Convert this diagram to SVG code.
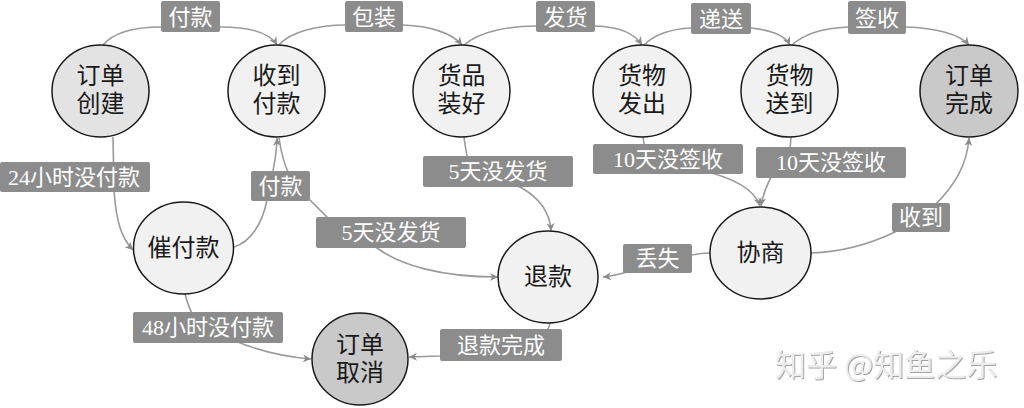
<svg xmlns="http://www.w3.org/2000/svg" width="1024" height="408" viewBox="0 0 1024 408">
<style>
.node ellipse{stroke:#1a1a1a;stroke-width:1.5;fill:#f1f1f1}
.node.start ellipse{fill:#e3e3e3}
.node.end ellipse{fill:#c9c9c9}
.node text{font-family:"Liberation Serif","Noto Sans CJK SC",serif;font-size:24px;fill:#1a1a1a;text-anchor:middle;dominant-baseline:central}
.edges path{fill:none;stroke:#9a9a9a;stroke-width:1.6}
.lbl rect{fill:#8c8c8c}
.lbl text{font-family:"Liberation Serif","Noto Sans CJK SC",serif;font-size:22px;fill:#ffffff;text-anchor:middle;dominant-baseline:central}
.wm{font-family:"Noto Sans CJK SC",sans-serif;font-size:31px;fill:#ececec}
</style>
<defs>
<marker id="arr" viewBox="0 0 10 10" refX="10" refY="5" markerWidth="9" markerHeight="8" markerUnits="userSpaceOnUse" orient="auto">
<path d="M0,0 L10,5 L0,10 L3,5 z" fill="#8a8a8a"/>
</marker>
<filter id="sh" x="-5%" y="-20%" width="110%" height="140%">
<feDropShadow dx="1" dy="1" stdDeviation="0.4" flood-color="#9a9a9a" flood-opacity="0.9"/>
</filter>
</defs>
<rect width="1024" height="408" fill="#ffffff"/>

<g id="connectors" class="edges">
<path d="M103,45 C115,31 140,27 161,27 L220,27 C250,27 270,33 277,45" marker-end="url(#arr)"/>
<path d="M279,45 C291,31 320,25 345,25 L403,25 C430,26 452,33 462,45" marker-end="url(#arr)"/>
<path d="M464,45 C480,31 510,26 536,26 L595,26 C620,27 634,33 642,45" marker-end="url(#arr)"/>
<path d="M644,45 C655,34 670,29 691,28 L751,28 C770,30 785,35 790,45" marker-end="url(#arr)"/>
<path d="M792,45 C805,33 825,28 848,27 L906,27 C935,28 960,34 969,45" marker-end="url(#arr)"/>
<path d="M113,137 L114,190 C116,220 121,238 133,250" marker-end="url(#arr)"/>
<path d="M234,247 C250,242 262,225 267,200 L273,171 C275,160 277,150 277,138" marker-end="url(#arr)"/>
<path d="M279,138 C281,152 284,163 288,172 L310,200 L330,220 L377,248 C400,265 440,277 498,277" marker-end="url(#arr)"/>
<path d="M464,137 C465,145 466,152 468,160 L500,180 L520,187 C540,198 550,212 551,231" marker-end="url(#arr)"/>
<path d="M550,323 C549,332 540,342 500,350 L440,356 L409,357" marker-end="url(#arr)"/>
<path d="M185,294 C187,302 190,310 195,320 L235,341 C262,352 285,357 311,359" marker-end="url(#arr)"/>
<path d="M643,137 L645,150 L700,170 C735,178 755,190 760,206" marker-end="url(#arr)"/>
<path d="M791,137 L790,150 L775,170 C768,182 763,192 761,206" marker-end="url(#arr)"/>
<path d="M811,253 C840,252 870,244 895,232 L935,205 C955,185 967,165 969,138" marker-end="url(#arr)"/>
<path d="M710,253 C690,253 660,262 640,268 C625,273 615,276 603,277" marker-end="url(#arr)"/>
</g>

<g id="edge-labels" class="lbl">
<rect x="161" y="1" width="59" height="31" rx="2"/><text x="190.5" y="17">付款</text>
<rect x="345" y="1" width="58" height="31" rx="2"/><text x="374" y="17">包装</text>
<rect x="536" y="1" width="59" height="31" rx="2"/><text x="565.5" y="17">发货</text>
<rect x="691" y="3" width="60" height="31" rx="2"/><text x="721" y="19">递送</text>
<rect x="848" y="1" width="58" height="33" rx="2"/><text x="877" y="18">签收</text>
<rect x="0" y="162" width="150" height="30" rx="2"/><text x="74" y="177">24小时没付款</text>
<rect x="251" y="171" width="59" height="30" rx="2"/><text x="280.5" y="186">付款</text>
<rect x="316" y="217" width="150" height="31" rx="2"/><text x="391" y="232.5">5天没发货</text>
<rect x="423" y="156" width="150" height="31" rx="2"/><text x="498" y="171.5">5天没发货</text>
<rect x="593" y="144" width="150" height="30" rx="2"/><text x="668" y="159">10天没签收</text>
<rect x="756" y="147" width="150" height="31" rx="2"/><text x="831" y="162.5">10天没签收</text>
<rect x="892" y="203" width="58" height="29" rx="2"/><text x="921" y="217.5">收到</text>
<rect x="623" y="244" width="69" height="29" rx="2"/><text x="657.5" y="258.5">丢失</text>
<rect x="133" y="312" width="150" height="31" rx="2"/><text x="208" y="327.5">48小时没付款</text>
<rect x="440" y="329" width="122" height="32" rx="2"/><text x="501" y="345">退款完成</text>
</g>

<g id="n-create" class="node start"><ellipse cx="100.5" cy="91" rx="48.5" ry="46"/><text x="100.5" y="76">订单</text><text x="100.5" y="104">创建</text></g>
<g id="n-paid" class="node"><ellipse cx="276.5" cy="91" rx="48.5" ry="46"/><text x="276.5" y="76">收到</text><text x="276.5" y="104">付款</text></g>
<g id="n-packed" class="node"><ellipse cx="461.5" cy="91" rx="48.5" ry="46"/><text x="461.5" y="76">货品</text><text x="461.5" y="104">装好</text></g>
<g id="n-shipped" class="node"><ellipse cx="642" cy="91" rx="49" ry="46"/><text x="642" y="76">货物</text><text x="642" y="104">发出</text></g>
<g id="n-delivered" class="node"><ellipse cx="789.5" cy="91" rx="48.5" ry="46"/><text x="789.5" y="76">货物</text><text x="789.5" y="104">送到</text></g>
<g id="n-done" class="node end"><ellipse cx="969" cy="91" rx="49" ry="46"/><text x="969" y="76">订单</text><text x="969" y="104">完成</text></g>
<g id="n-remind" class="node"><ellipse cx="183.5" cy="248" rx="50" ry="46"/><text x="183.5" y="248">催付款</text></g>
<g id="n-refund" class="node"><ellipse cx="548" cy="277" rx="50" ry="46"/><text x="548" y="277">退款</text></g>
<g id="n-negotiate" class="node"><ellipse cx="760.5" cy="253" rx="50.5" ry="46"/><text x="760.5" y="253">协商</text></g>
<g id="n-cancel" class="node end"><ellipse cx="360" cy="359" rx="48" ry="46"/><text x="360" y="345">订单</text><text x="360" y="373">取消</text></g>

<text class="wm" x="775" y="376" filter="url(#sh)">知乎 @知鱼之乐</text>
</svg>
